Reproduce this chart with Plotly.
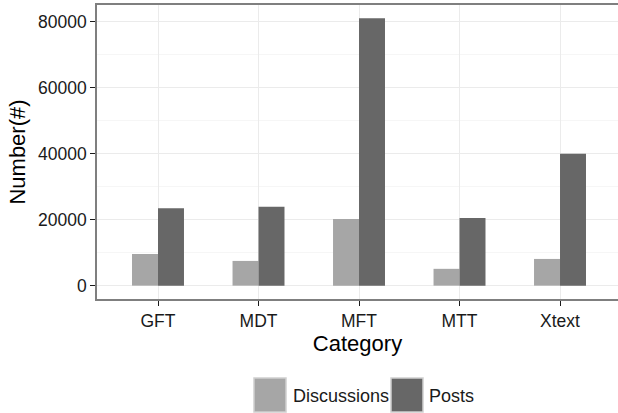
import plotly.graph_objects as go

categories = ["GFT", "MDT", "MFT", "MTT", "Xtext"]
discussions = [9600, 7500, 20200, 5100, 8100]
posts = [23500, 23900, 81100, 20500, 40000]
y_ticks = [0, 20000, 40000, 60000, 80000]

series_names = ["Discussions", "Posts"]
series_colors = ["#a6a6a6", "#676767"]

W, H = 618, 413
L, R, T, B = 97, 0, 5, 114
pw = W - L - R
ph = H - T - B

def px2x(px):
    return (px - L) / pw

def px2y(py):
    return (H - B - py) / ph

fig = go.Figure()
fig.add_trace(go.Bar(x=categories, y=discussions, name=series_names[0],
                     marker=dict(color=series_colors[0], line=dict(width=0)),
                     showlegend=False))
fig.add_trace(go.Bar(x=categories, y=posts, name=series_names[1],
                     marker=dict(color=series_colors[1], line=dict(width=0)),
                     showlegend=False))

font_family = "Liberation Sans, Arial, sans-serif"

fig.update_layout(
    width=W, height=H,
    margin=dict(l=L, r=R, t=T, b=B, autoexpand=False),
    paper_bgcolor="white", plot_bgcolor="white",
    barmode="group", bargap=0.483, bargroupgap=0,
    font=dict(family=font_family, color="#1a1a1a"),
    xaxis=dict(
        range=[-0.607, 4.577],
        showline=True, linecolor="#7f7f7f", linewidth=1.5, mirror=True,
        showgrid=True, gridcolor="#ebebeb", gridwidth=1,
        ticks="outside", ticklen=5, tickwidth=1.2, tickcolor="#1a1a1a",
        tickfont=dict(size=17.5, color="#1a1a1a"),
        title=dict(text="Category", font=dict(size=22, color="#000"), standoff=4),
        automargin=False,
    ),
    yaxis=dict(
        range=[-4055, 85155],
        tickvals=y_ticks, tickformat="d",
        showline=True, linecolor="#7f7f7f", linewidth=1.5, mirror=False,
        showgrid=True, gridcolor="#ebebeb", gridwidth=1,
        minor=dict(dtick=10000, tick0=0, showgrid=True, gridcolor="#f6f6f6", gridwidth=1),
        zeroline=False,
        ticks="outside", ticklen=5, tickwidth=1.2, tickcolor="#1a1a1a",
        tickfont=dict(size=17.5, color="#1a1a1a"),
        title=dict(text="Number(#)", font=dict(size=22, color="#000"), standoff=6),
        automargin=False,
    ),
)

# custom legend (large ggplot-style keys)
legend_items = [
    (series_names[0], series_colors[0], 254, 286, 291),
    (series_names[1], series_colors[1], 391, 423, 427),
]
for name, color, x0, x1, tx in legend_items:
    fig.add_shape(type="rect", xref="paper", yref="paper",
                  x0=px2x(x0), x1=px2x(x1), y0=px2y(412), y1=px2y(378),
                  fillcolor=color, line=dict(color="#d0d0d0", width=1.5))
    fig.add_annotation(xref="paper", yref="paper", x=px2x(tx), y=px2y(395.5),
                       xanchor="left", yanchor="middle", showarrow=False,
                       text=name, font=dict(size=18, color="#1a1a1a", family=font_family))

fig.write_html("out.html",
               config={"displayModeBar": False},
               post_script="document.body.style.margin='0';document.body.style.overflow='hidden';")
